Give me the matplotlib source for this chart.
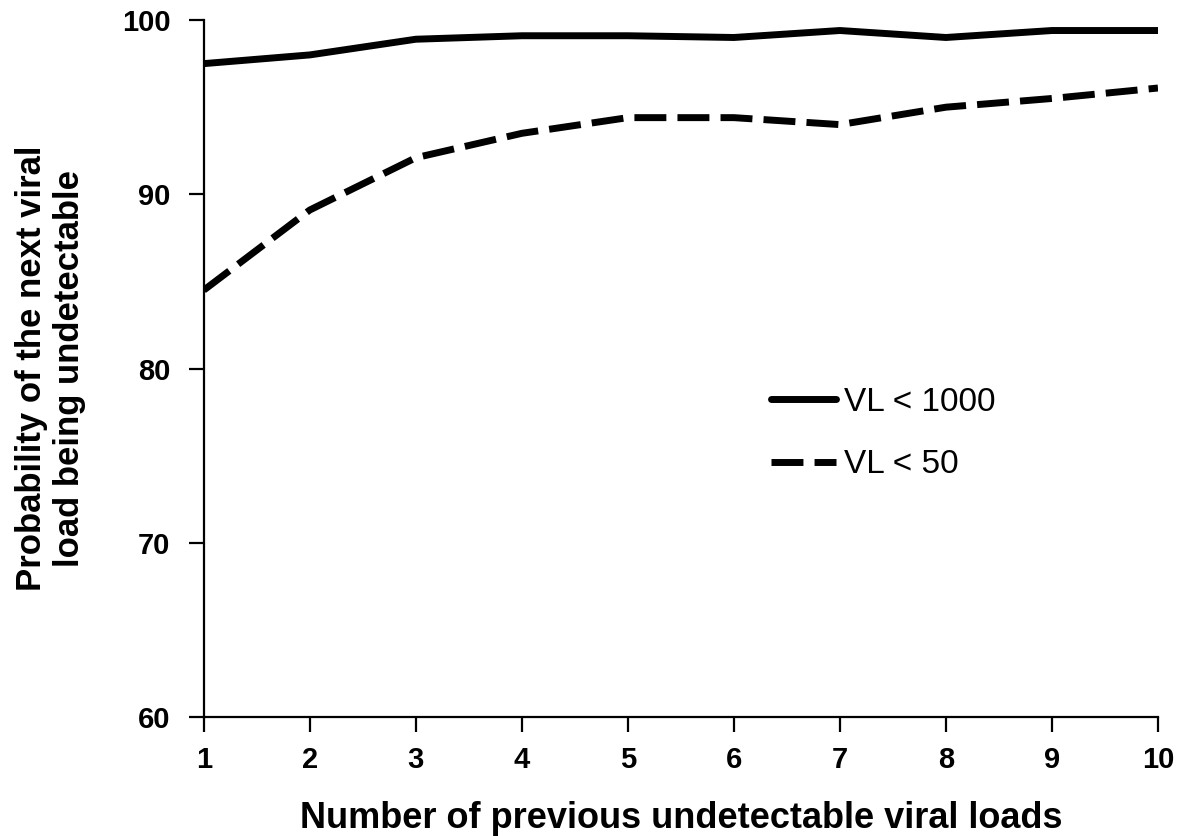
import matplotlib.pyplot as plt

# probability (%) that the next viral load is undetectable
n_previous = [1, 2, 3, 4, 5, 6, 7, 8, 9, 10]
vl_1000 = [97.5, 98.0, 98.9, 99.1, 99.1, 99.0, 99.4, 99.0, 99.4, 99.4]
vl_50 = [84.5, 89.1, 92.1, 93.5, 94.4, 94.4, 94.0, 95.0, 95.5, 96.1]

plt.rcParams['font.family'] = ['Liberation Sans', 'DejaVu Sans']

fig = plt.figure(figsize=(11.78, 8.36), dpi=100)
ax = fig.add_axes([0.173, 0.1423, 0.81, 0.8337])

ax.plot(n_previous, vl_1000, color='black', lw=5, solid_capstyle='round',
        solid_joinstyle='round', label='VL < 1000')
ax.plot(n_previous, vl_50, color='black', lw=5, dashes=(4.6, 1.6),
        dash_capstyle='butt', label='VL < 50')

ax.set_xlim(1, 10)
ax.set_ylim(60, 100)
ax.set_xticks(n_previous)
ax.set_yticks([60, 70, 80, 90, 100])

for s in ['top', 'right']:
    ax.spines[s].set_visible(False)
for s in ['left', 'bottom']:
    ax.spines[s].set_linewidth(1.6)

ax.tick_params(axis='both', direction='out', length=11, width=1.6,
               labelsize=21)
ax.tick_params(axis='y', pad=13)
ax.tick_params(axis='x', pad=10)
for lab in ax.get_xticklabels() + ax.get_yticklabels():
    lab.set_fontweight('bold')

ax.set_xlabel('Number of previous undetectable viral loads', fontsize=26,
              fontweight='bold', labelpad=19)
ax.set_ylabel('Probability of the next viral\nload being undetectable',
              fontsize=25, fontweight='bold', labelpad=26)

ax.legend(loc='upper left', bbox_to_anchor=(0.563, 0.517), frameon=False,
          fontsize=24, handlelength=1.95, handletextpad=0.25,
          labelspacing=0.95)

fig.savefig('out.png', dpi=100)
